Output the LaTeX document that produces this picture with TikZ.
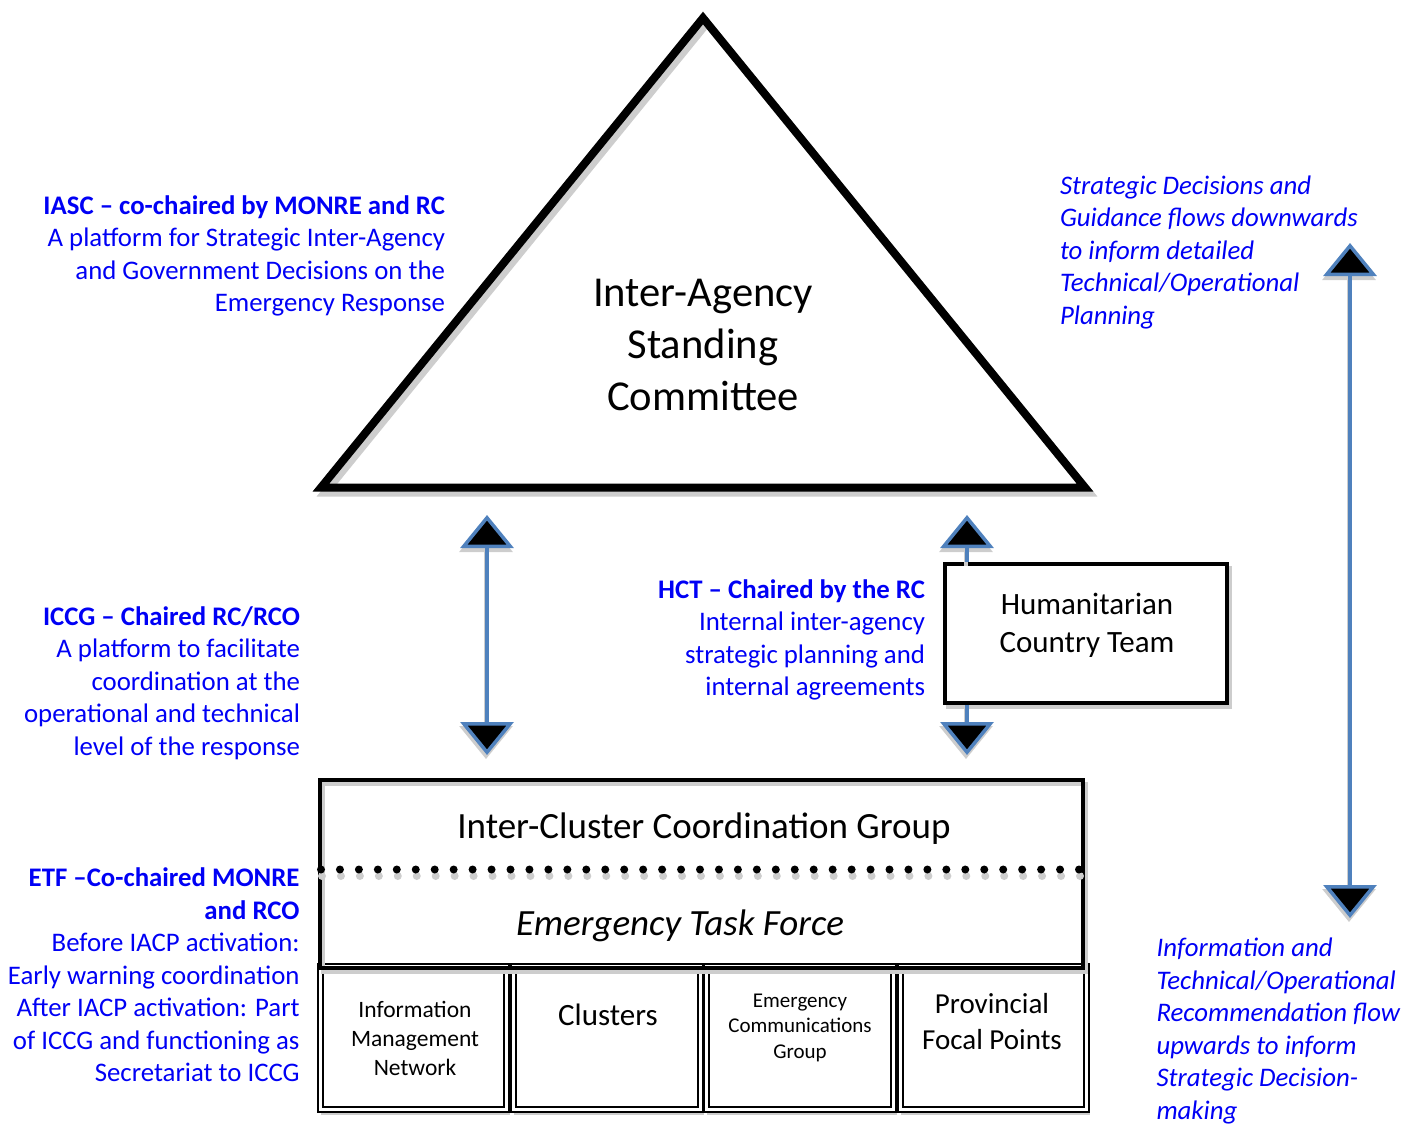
\documentclass[tikz,border=0pt]{standalone}
\usepackage{fontspec}
\setmainfont{Carlito}
\usetikzlibrary{arrows.meta}
\definecolor{txtblue}{RGB}{0,0,245}
\definecolor{arrowblue}{RGB}{79,129,189}
\definecolor{shadowgray}{RGB}{205,205,205}
\begin{document}
\begin{tikzpicture}[x=1pt,y=-1pt,
  bluetxt/.style={text=txtblue, inner sep=0pt, outer sep=0pt},
  rblock/.style={bluetxt, align=right, anchor=north east, font=\fontsize{26.8}{32.5}\selectfont},
  lblock/.style={bluetxt, align=left, anchor=north west, font=\fontsize{26.8}{32.5}\selectfont\itshape},
  blacktxt/.style={text=black, inner sep=0pt, outer sep=0pt},
  boxline/.style={draw=black, line width=4pt, inner sep=0pt},
  shadowed/.style={preaction={draw=shadowgray, line width=4pt, transform canvas={shift={(3pt,-4pt)}}}},
  cellbox/.style={draw=black, line width=2pt, double=white, double distance=3pt,
    minimum width=186.25pt, minimum height=143pt, inner sep=0pt,
    preaction={draw=shadowgray, line width=3pt, transform canvas={shift={(2pt,-4pt)}}}},
  flowtip/.tip={Triangle[width=53pt,length=33pt,line width=3.5pt,fill=black]},
  shadetip/.tip={Triangle[width=53pt,length=33pt,line width=3.5pt,fill=shadowgray]},
  flow/.style={draw=arrowblue, line width=4pt},
  flowshadow/.style={draw=shadowgray, line width=4pt, transform canvas={shift={(-1pt,-4pt)}}},
  dotline/.style={line width=8pt, line cap=round, dash pattern=on 0pt off 18.95pt}
]
\useasboundingbox (0,0) rectangle (1418,1126);

% ---------- triangle ----------
\coordinate (apex) at (703,18);
\coordinate (bl) at (321,487.5);
\coordinate (br) at (1085,487.5);
\draw[shadowgray, line width=8pt, line join=miter, transform canvas={shift={(4pt,-5pt)}}] (apex) -- (br) -- (bl) -- cycle;
\draw[black, line width=8pt, line join=miter] (apex) -- (br) -- (bl) -- cycle;
\node[blacktxt, anchor=north, align=center, font=\fontsize{42.6}{52}\selectfont] (iasc) at (703,269.6)
  {\strut Inter-Agency\\Standing\\Committee};

% ---------- HCT box ----------
\node[boxline, shadowed, fill=white, minimum width=282.6pt, minimum height=139.3pt] (hct) at (1086,633.35) {};
\node[blacktxt, anchor=north, align=center, font=\fontsize{31}{38}\selectfont] (hcttxt) at (1087,587.4)
  {\strut Humanitarian\\Country Team};

% ---------- cells ----------
\node[cellbox] (c1) at (413.6,1038) {};
\node[cellbox] (c2) at (606.9,1038) {};
\node[cellbox] (c3) at (800.1,1038) {};
\node[cellbox] (c4) at (993.4,1038) {};
\node[blacktxt, anchor=north, align=center, font=\fontsize{23.5}{28.7}\selectfont] (imn) at (415,997.6)
  {\strut Information\\Management\\Network};
\node[blacktxt, anchor=base, font=\fontsize{31}{38}\selectfont] (clu) at (608,1025) {Clusters};
\node[blacktxt, anchor=north, align=center, font=\fontsize{21}{25.6}\selectfont] (ecg) at (800,989.1)
  {\strut Emergency\\Communications\\Group};
\node[blacktxt, anchor=north, align=center, font=\fontsize{29}{36}\selectfont] (pfp) at (992,987.8)
  {\strut Provincial\\Focal Points};

% ---------- ICCG / ETF box ----------
\node[boxline, shadowed, minimum width=763pt, minimum height=188pt] (iccg) at (701.5,874) {};
\draw[dotline, shadowgray] (322,876) -- (1080,876);
\draw[dotline, black] (321,869.5) -- (1079,869.5);
\node[blacktxt, anchor=base, font=\fontsize{37}{45}\selectfont] (iccgtxt) at (704,838) {Inter-Cluster Coordination Group};
\node[blacktxt, anchor=base, font=\fontsize{37}{45}\selectfont\itshape] (etftxt) at (680,935) {Emergency Task Force};

% ---------- arrows ----------
\coordinate (la) at (487,515);
\coordinate (lb) at (487,755);
\draw[flowshadow, shadetip-shadetip] (lb) -- (la);
\draw[flow, flowtip-flowtip] (lb) -- (la);
\coordinate (ra) at (967,515);
\coordinate (rb) at (967,755);
\draw[flowshadow, -shadetip] (hct.north -| ra) -- (ra);
\draw[flowshadow, -shadetip] (hct.south -| rb) -- (rb);
\draw[flow, -flowtip] (hct.north -| ra) -- (ra);
\draw[flow, -flowtip] (hct.south -| rb) -- (rb);
\coordinate (fa) at (1350,243);
\coordinate (fb) at (1350,918);
\draw[flowshadow, shadetip-shadetip] (fb) -- (fa);
\draw[flow, flowtip-flowtip] (fb) -- (fa);

% ---------- blue annotations ----------
\node[rblock] (iascnote) at (445,191.25)
  {\strut\textbf{IASC – co-chaired by MONRE and RC}\\A platform for Strategic Inter-Agency\\and Government Decisions on the\\Emergency Response};
\node[rblock] (iccgnote) at (300,602.25)
  {\strut\textbf{ICCG – Chaired RC/RCO}\\A platform to facilitate\\coordination at the\\operational and technical\\level of the response};
\node[rblock] (hctnote) at (925,575.25)
  {\strut\textbf{HCT – Chaired by the RC}\\Internal inter-agency\\strategic planning and\\internal agreements};
\node[rblock] (etfnote) at (299.5,864)
  {\strut\textbf{ETF –Co-chaired MONRE}\\\textbf{and RCO}\\Before IACP activation:\\Early warning coordination\\After IACP activation: Part\\of ICCG and functioning as\\Secretariat to ICCG};
\node[lblock] (downnote) at (1060,171.25)
  {\strut Strategic Decisions and\\Guidance flows downwards\\to inform detailed\\Technical/Operational\\Planning};
\node[lblock] (upnote) at (1156.5,934)
  {\strut Information and\\Technical/Operational\\Recommendation flow\\upwards to inform\\Strategic Decision-\\making};
\end{tikzpicture}
\end{document}
